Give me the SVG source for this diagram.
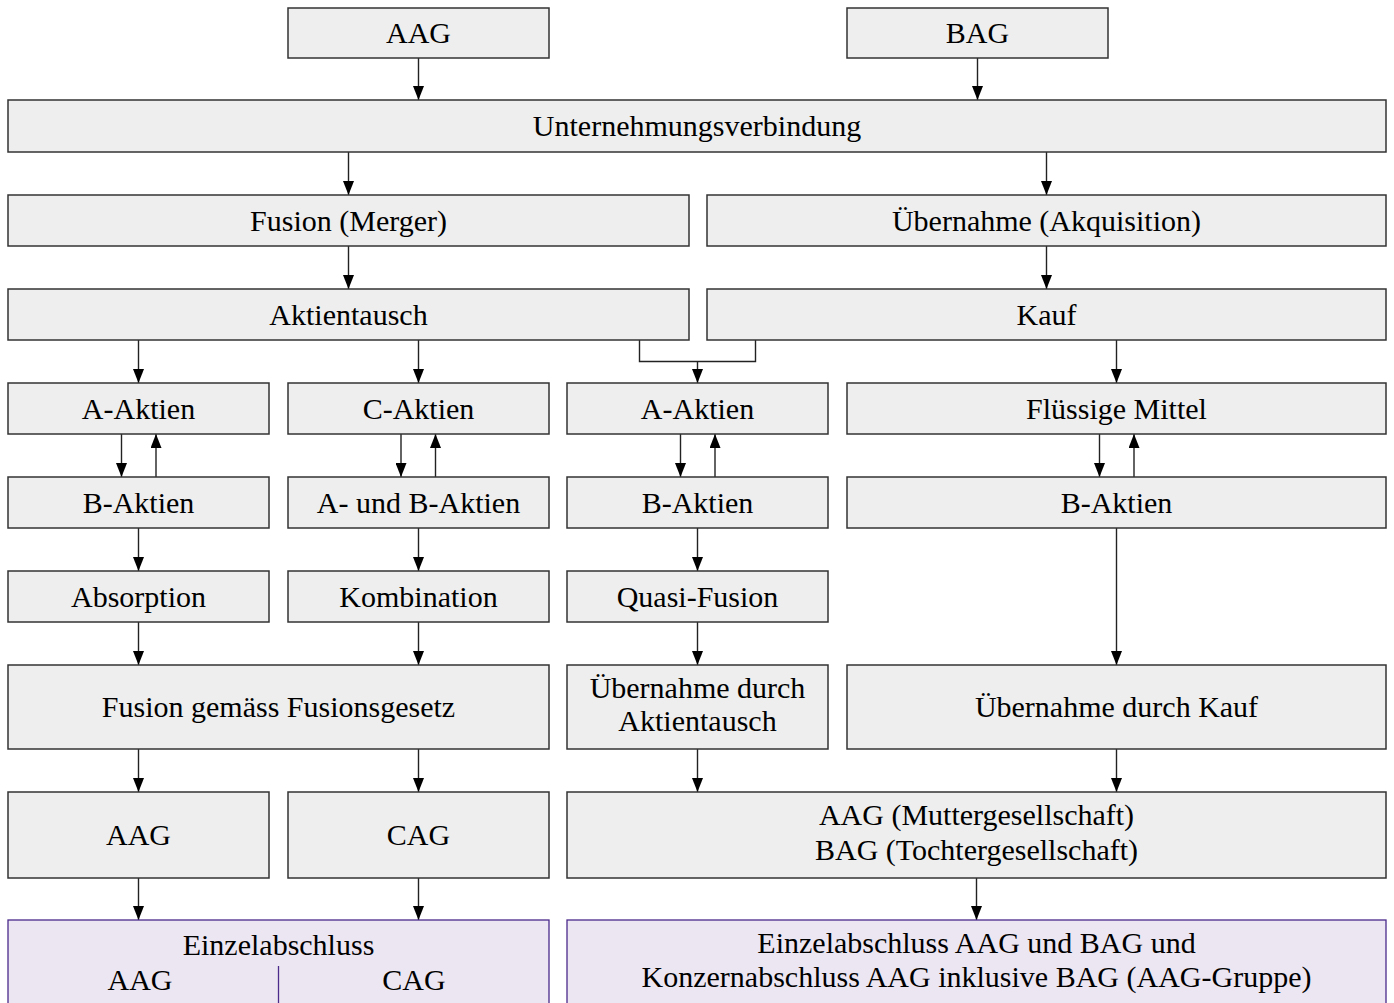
<svg xmlns="http://www.w3.org/2000/svg" width="1394" height="1003" viewBox="0 0 1394 1003">
<defs>
<marker id="ah" markerUnits="userSpaceOnUse" markerWidth="14" markerHeight="11" refX="14" refY="5.5" orient="auto" viewBox="0 0 14 11">
<path d="M0,0 L14,5.5 L0,11 z" fill="#000"/>
</marker>
<style>
.b{fill:#eeeeee;stroke:#333;stroke-width:1.5}
.p{fill:#ece6f2;stroke:#4b2a8a;stroke-width:1.3}
.t{font-family:"Liberation Serif","Times New Roman",serif;font-size:30px;fill:#000;text-anchor:middle}
.c{fill:none;stroke:#222;stroke-width:1.4}
.a{fill:none;stroke:#222;stroke-width:1.4;marker-end:url(#ah)}
</style>
</defs>
<rect width="1394" height="1003" fill="#fff"/>
<g id="connectors">
<line class="a" x1="418.5" y1="58" x2="418.5" y2="100"/>
<line class="a" x1="977.5" y1="58" x2="977.5" y2="100"/>
<line class="a" x1="348.5" y1="152" x2="348.5" y2="195"/>
<line class="a" x1="1046.5" y1="152" x2="1046.5" y2="195"/>
<line class="a" x1="348.5" y1="246" x2="348.5" y2="289"/>
<line class="a" x1="1046.5" y1="246" x2="1046.5" y2="289"/>
<line class="a" x1="138.5" y1="340" x2="138.5" y2="383"/>
<line class="a" x1="418.5" y1="340" x2="418.5" y2="383"/>
<path class="c" d="M639.5,340 V361.5 H755.5 V340"/>
<line class="a" x1="697.5" y1="361.5" x2="697.5" y2="383"/>
<line class="a" x1="1116.5" y1="340" x2="1116.5" y2="383"/>
<line class="a" x1="121.5" y1="434" x2="121.5" y2="477"/>
<line class="a" x1="156" y1="477" x2="156" y2="434"/>
<line class="a" x1="401" y1="434" x2="401" y2="477"/>
<line class="a" x1="435.5" y1="477" x2="435.5" y2="434"/>
<line class="a" x1="680.5" y1="434" x2="680.5" y2="477"/>
<line class="a" x1="715" y1="477" x2="715" y2="434"/>
<line class="a" x1="1099.5" y1="434" x2="1099.5" y2="477"/>
<line class="a" x1="1134" y1="477" x2="1134" y2="434"/>
<line class="a" x1="138.5" y1="528" x2="138.5" y2="571"/>
<line class="a" x1="418.5" y1="528" x2="418.5" y2="571"/>
<line class="a" x1="697.5" y1="528" x2="697.5" y2="571"/>
<line class="a" x1="1116.5" y1="528" x2="1116.5" y2="665"/>
<line class="a" x1="138.5" y1="622" x2="138.5" y2="665"/>
<line class="a" x1="418.5" y1="622" x2="418.5" y2="665"/>
<line class="a" x1="697.5" y1="622" x2="697.5" y2="665"/>
<line class="a" x1="138.5" y1="749" x2="138.5" y2="792"/>
<line class="a" x1="418.5" y1="749" x2="418.5" y2="792"/>
<line class="a" x1="697.5" y1="749" x2="697.5" y2="792"/>
<line class="a" x1="1116.5" y1="749" x2="1116.5" y2="792"/>
<line class="a" x1="138.5" y1="878" x2="138.5" y2="920"/>
<line class="a" x1="418.5" y1="878" x2="418.5" y2="920"/>
<line class="a" x1="976.5" y1="878" x2="976.5" y2="920"/>
</g>
<g id="n_aag_top"><rect class="b" x="288" y="8" width="261" height="50"/><text class="t" x="418.5" y="43">AAG</text></g>
<g id="n_bag_top"><rect class="b" x="847" y="8" width="261" height="50"/><text class="t" x="977.5" y="43">BAG</text></g>
<g id="n_unternehmung"><rect class="b" x="8" y="100" width="1378" height="52"/><text class="t" x="697" y="136">Unternehmungsverbindung</text></g>
<g id="n_fusion"><rect class="b" x="8" y="195" width="681" height="51"/><text class="t" x="348.5" y="231">Fusion (Merger)</text></g>
<g id="n_uebernahme"><rect class="b" x="707" y="195" width="679" height="51"/><text class="t" x="1046.5" y="231">Übernahme (Akquisition)</text></g>
<g id="n_aktientausch"><rect class="b" x="8" y="289" width="681" height="51"/><text class="t" x="348.5" y="325">Aktientausch</text></g>
<g id="n_kauf"><rect class="b" x="707" y="289" width="679" height="51"/><text class="t" x="1046.5" y="325">Kauf</text></g>
<g id="n_a_aktien1"><rect class="b" x="8" y="383" width="261" height="51"/><text class="t" x="138.5" y="419">A-Aktien</text></g>
<g id="n_c_aktien"><rect class="b" x="288" y="383" width="261" height="51"/><text class="t" x="418.5" y="419">C-Aktien</text></g>
<g id="n_a_aktien2"><rect class="b" x="567" y="383" width="261" height="51"/><text class="t" x="697.5" y="419">A-Aktien</text></g>
<g id="n_fluessige"><rect class="b" x="847" y="383" width="539" height="51"/><text class="t" x="1116.5" y="419">Flüssige Mittel</text></g>
<g id="n_b_aktien1"><rect class="b" x="8" y="477" width="261" height="51"/><text class="t" x="138.5" y="513">B-Aktien</text></g>
<g id="n_ab_aktien"><rect class="b" x="288" y="477" width="261" height="51"/><text class="t" x="418.5" y="513">A- und B-Aktien</text></g>
<g id="n_b_aktien2"><rect class="b" x="567" y="477" width="261" height="51"/><text class="t" x="697.5" y="513">B-Aktien</text></g>
<g id="n_b_aktien3"><rect class="b" x="847" y="477" width="539" height="51"/><text class="t" x="1116.5" y="513">B-Aktien</text></g>
<g id="n_absorption"><rect class="b" x="8" y="571" width="261" height="51"/><text class="t" x="138.5" y="607">Absorption</text></g>
<g id="n_kombination"><rect class="b" x="288" y="571" width="261" height="51"/><text class="t" x="418.5" y="607">Kombination</text></g>
<g id="n_quasi"><rect class="b" x="567" y="571" width="261" height="51"/><text class="t" x="697.5" y="607">Quasi-Fusion</text></g>
<g id="n_fusiongesetz"><rect class="b" x="8" y="665" width="541" height="84"/><text class="t" x="278.5" y="717">Fusion gemäss Fusionsgesetz</text></g>
<g id="n_ueb_aktientausch"><rect class="b" x="567" y="665" width="261" height="84"/><text class="t" x="697.5" y="698">Übernahme durch</text><text class="t" x="697.5" y="731">Aktientausch</text></g>
<g id="n_ueb_kauf"><rect class="b" x="847" y="665" width="539" height="84"/><text class="t" x="1116.5" y="717">Übernahme durch Kauf</text></g>
<g id="n_aag"><rect class="b" x="8" y="792" width="261" height="86"/><text class="t" x="138.5" y="845">AAG</text></g>
<g id="n_cag"><rect class="b" x="288" y="792" width="261" height="86"/><text class="t" x="418.5" y="845">CAG</text></g>
<g id="n_mutter"><rect class="b" x="567" y="792" width="819" height="86"/><text class="t" x="976.5" y="825">AAG (Muttergesellschaft)</text><text class="t" x="976.5" y="860">BAG (Tochtergesellschaft)</text></g>
<g id="n_einzel"><rect class="p" x="8" y="920" width="541" height="100"/><text class="t" x="278.5" y="955">Einzelabschluss</text><line x1="278.5" y1="966" x2="278.5" y2="1003" stroke="#4b2a8a" stroke-width="1.3"/><text class="t" x="140" y="990">AAG</text><text class="t" x="414" y="990">CAG</text></g>
<g id="n_konzern"><rect class="p" x="567" y="920" width="819" height="100"/><text class="t" x="976.5" y="953">Einzelabschluss AAG und BAG und</text><text class="t" x="976.5" y="987">Konzernabschluss AAG inklusive BAG (AAG-Gruppe)</text></g>
</svg>
